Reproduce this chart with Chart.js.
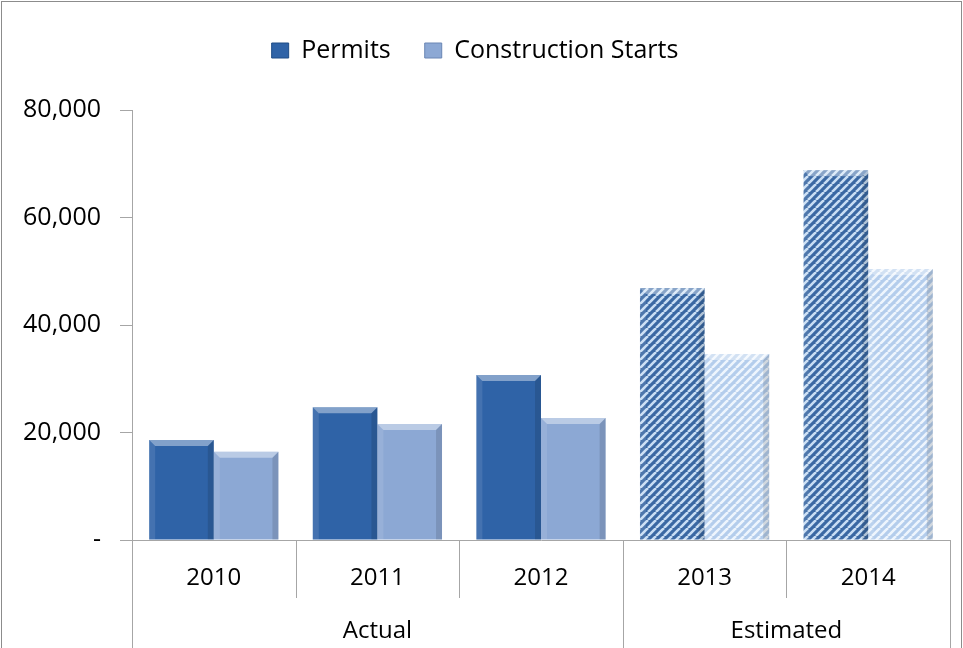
<!DOCTYPE html>
<html>
<head>
<meta charset="utf-8">
<script src="https://cdn.jsdelivr.net/npm/chart.js@4.4.1/dist/chart.umd.min.js"></script>
<style>
  body { margin: 0; background: #fff; }
  #wrap { width: 963px; height: 648px; }
</style>
</head>
<body>
<div id="wrap"><canvas id="housing"></canvas></div>
<script>
var years = ['2010', '2011', '2012', '2013', '2014'];
var periods = ['Actual', 'Actual', 'Actual', 'Estimated', 'Estimated'];
var permits = [18600, 24700, 30700, 46900, 68800];
var starts = [16400, 21600, 22700, 34600, 50400];
var yTicks = [0, 20000, 40000, 60000, 80000];

var FONT = "'Open Sans', 'Noto Sans', sans-serif";

// striped fill for the estimated years
function stripes(bg, fg) {
    var c = document.createElement('canvas');
    c.width = 8; c.height = 8;
    var x = c.getContext('2d');
    x.fillStyle = bg;
    x.fillRect(0, 0, 8, 8);
    x.strokeStyle = fg;
    x.lineWidth = 2.6;
    [-8, 0, 8].forEach(function (o) {
        x.beginPath();
        x.moveTo(o, 8);
        x.lineTo(o + 8, 0);
        x.stroke();
    });
    return x.createPattern(c, 'repeat');
}

var permitsSolid = '#2f63a7';
var startsSolid = '#8ca8d4';
var permitsStripe = stripes('#3a68a3', '#c9def4');
var startsStripe = stripes('#b4cdec', '#eef5fd');

function fillFor(solid, striped) {
    return periods.map(function (p) { return p === 'Estimated' ? striped : solid; });
}

// extra room under the legend
var legendGap = {
    id: 'legendGap',
    beforeInit: function (chart) {
        var fit = chart.legend.fit;
        chart.legend.fit = function () {
            fit.call(this);
            this.height = 106;
        };
    }
};

// light top / soft sides, like the bevelled bars
var bevelPlugin = {
    id: 'bevel',
    afterDatasetsDraw: function (chart) {
        var ctx = chart.ctx;
        chart.data.datasets.forEach(function (ds, di) {
            chart.getDatasetMeta(di).data.forEach(function (bar) {
                var l = bar.x - bar.width / 2, r = bar.x + bar.width / 2;
                var t = bar.y, b = bar.base, e = 6;
                ctx.save();
                ctx.fillStyle = 'rgba(255,255,255,0.4)';
                ctx.beginPath();
                ctx.moveTo(l, t); ctx.lineTo(r, t); ctx.lineTo(r - e, t + e); ctx.lineTo(l + e, t + e);
                ctx.closePath(); ctx.fill();
                ctx.fillStyle = 'rgba(255,255,255,0.10)';
                ctx.beginPath();
                ctx.moveTo(l, t); ctx.lineTo(l + e, t + e); ctx.lineTo(l + e, b); ctx.lineTo(l, b);
                ctx.closePath(); ctx.fill();
                ctx.fillStyle = 'rgba(0,0,0,0.12)';
                ctx.beginPath();
                ctx.moveTo(r, t); ctx.lineTo(r - e, t + e); ctx.lineTo(r - e, b); ctx.lineTo(r, b);
                ctx.closePath(); ctx.fill();
                ctx.restore();
            });
        });
    }
};

// category dividers, period labels and outer frame
var groupAxisPlugin = {
    id: 'groupAxis',
    afterDraw: function (chart) {
        var ctx = chart.ctx, xs = chart.scales.x, area = chart.chartArea;
        var step = xs.width / years.length;
        ctx.save();
        ctx.strokeStyle = '#a6a6a6';
        ctx.lineWidth = 1;
        for (var i = 0; i <= years.length; i++) {
            var x = Math.round(xs.left + i * step) + 0.5;
            var isGroupEdge = i === 0 || i === years.length || periods[i] !== periods[i - 1];
            ctx.beginPath();
            ctx.moveTo(x, area.bottom);
            ctx.lineTo(x, isGroupEdge ? chart.height : area.bottom + 58);
            ctx.stroke();
        }
        ctx.fillStyle = '#000';
        ctx.font = '24px ' + FONT;
        ctx.textAlign = 'center';
        ctx.textBaseline = 'middle';
        var start = 0;
        for (var j = 1; j <= periods.length; j++) {
            if (j === periods.length || periods[j] !== periods[start]) {
                var mid = (xs.getPixelForValue(start) + xs.getPixelForValue(j - 1)) / 2;
                ctx.fillText(periods[start], mid, area.bottom + 91);
                start = j;
            }
        }
        ctx.strokeStyle = '#8c8c8c';
        ctx.strokeRect(1.5, 1.5, chart.width - 3, chart.height + 10);
        ctx.restore();
    }
};

var chart = new Chart(document.getElementById('housing').getContext('2d'), {
    type: 'bar',
    data: {
        labels: years,
        datasets: [{
            label: 'Permits',
            data: permits,
            backgroundColor: fillFor(permitsSolid, permitsStripe)
        }, {
            label: 'Construction Starts',
            data: starts,
            backgroundColor: fillFor(startsSolid, startsStripe)
        }]
    },
    options: {
        responsive: true,
        maintainAspectRatio: false,
        animation: false,
        layout: { padding: { left: 0, right: 13, top: 4, bottom: 0 } },
        datasets: { bar: { categoryPercentage: 0.79, barPercentage: 1.0 } },
        plugins: {
            tooltip: { enabled: false },
            legend: {
                position: 'top',
                labels: {
                    font: { family: FONT, size: 25 },
                    color: '#000',
                    boxWidth: 17,
                    boxHeight: 15,
                    padding: 34,
                    generateLabels: function () {
                        return [
                            { text: 'Permits', fillStyle: permitsSolid, strokeStyle: '#1f4c86', lineWidth: 1, datasetIndex: 0 },
                            { text: 'Construction Starts', fillStyle: startsSolid, strokeStyle: '#6a86b4', lineWidth: 1, datasetIndex: 1 }
                        ];
                    }
                }
            }
        },
        scales: {
            x: {
                grid: { display: false },
                border: { color: '#a6a6a6' },
                ticks: { color: '#000', font: { family: FONT, size: 24 }, padding: 16 },
                afterFit: function (s) { s.height = 108; }
            },
            y: {
                min: 0,
                max: 80000,
                afterBuildTicks: function (s) { s.ticks = yTicks.map(function (v) { return { value: v }; }); },
                afterFit: function (s) { s.width = 132; },
                grid: { drawOnChartArea: false, color: '#a6a6a6', tickLength: 12 },
                border: { color: '#a6a6a6' },
                ticks: {
                    color: '#000',
                    font: { family: FONT, size: 25 },
                    padding: 19,
                    callback: function (v) { return v === 0 ? '-' : v.toLocaleString('en-US'); }
                }
            }
        }
    },
    plugins: [legendGap, bevelPlugin, groupAxisPlugin]
});
</script>
</body>
</html>
